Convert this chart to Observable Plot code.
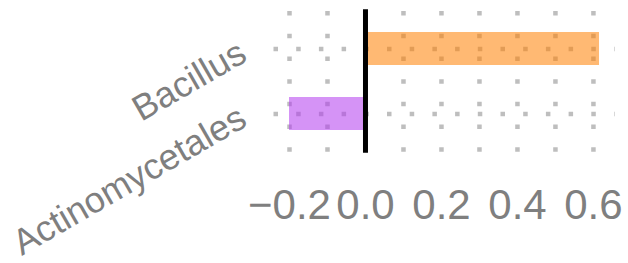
<!DOCTYPE html>
<html>
<head>
<meta charset="utf-8">
<script src="https://cdn.jsdelivr.net/npm/d3@7"></script>
<script src="https://cdn.jsdelivr.net/npm/@observablehq/plot@0.6"></script>
<style>
  html, body { margin: 0; padding: 0; background: #fff; }
  #chart svg { display: block; font-family: "Liberation Sans", Arial, sans-serif; }
</style>
</head>
<body>
<div id="chart"></div>
<script>
// Data
const categories = ["Bacillus", "Actinomycetales"];
const values = [0.616, -0.2];
const xTickValues = [-0.2, 0.0, 0.2, 0.4, 0.6];
const xGridValues = [-0.2, -0.1, 0.0, 0.1, 0.2, 0.3, 0.4, 0.5, 0.6];
const fills = ["#FF7F00", "#B23AEE"];

const data = categories.map((c, i) => ({category: c, value: values[i], fill: fills[i]}));

const grey = "#bebebe";
const textGrey = "#7f7f7f";

const chart = Plot.plot({
  width: 628,
  height: 263,
  marginTop: 9.3,
  marginBottom: 110.3,
  marginLeft: 273.5,
  marginRight: 13.4,
  style: {fontFamily: "'Liberation Sans', Arial, sans-serif", background: "white"},
  x: {domain: [-0.2408, 0.657], axis: null, label: null},
  y: {domain: categories, paddingInner: 0.5, paddingOuter: 0.35, axis: null, label: null},
  marks: [
    Plot.gridX(xGridValues, {stroke: grey, strokeOpacity: 1, strokeWidth: 4.5,
      strokeDasharray: "4.5 18.2", strokeDashoffset: 20.95}),
    Plot.gridY(categories, {stroke: grey, strokeOpacity: 1, strokeWidth: 4.5,
      strokeDasharray: "4.5 18.2", strokeDashoffset: 0}),
    Plot.barX(data, {x: "value", y: "category", fill: "fill", fillOpacity: 0.55}),
    Plot.ruleX([0], {stroke: "black", strokeWidth: 5}),
    Plot.axisX(xTickValues, {
      tickSize: 0, tickPadding: 36, fontSize: 42, color: textGrey, label: null,
      tickFormat: d => d.toFixed(1).replace("-", "\u2212")
    }),
    Plot.text(categories, {
      y: d => d, frameAnchor: "left", textAnchor: "end", rotate: -30,
      dx: -31, dy: 1, fontSize: 36, fill: textGrey
    })
  ]
});
document.getElementById("chart").appendChild(chart);
</script>
</body>
</html>
